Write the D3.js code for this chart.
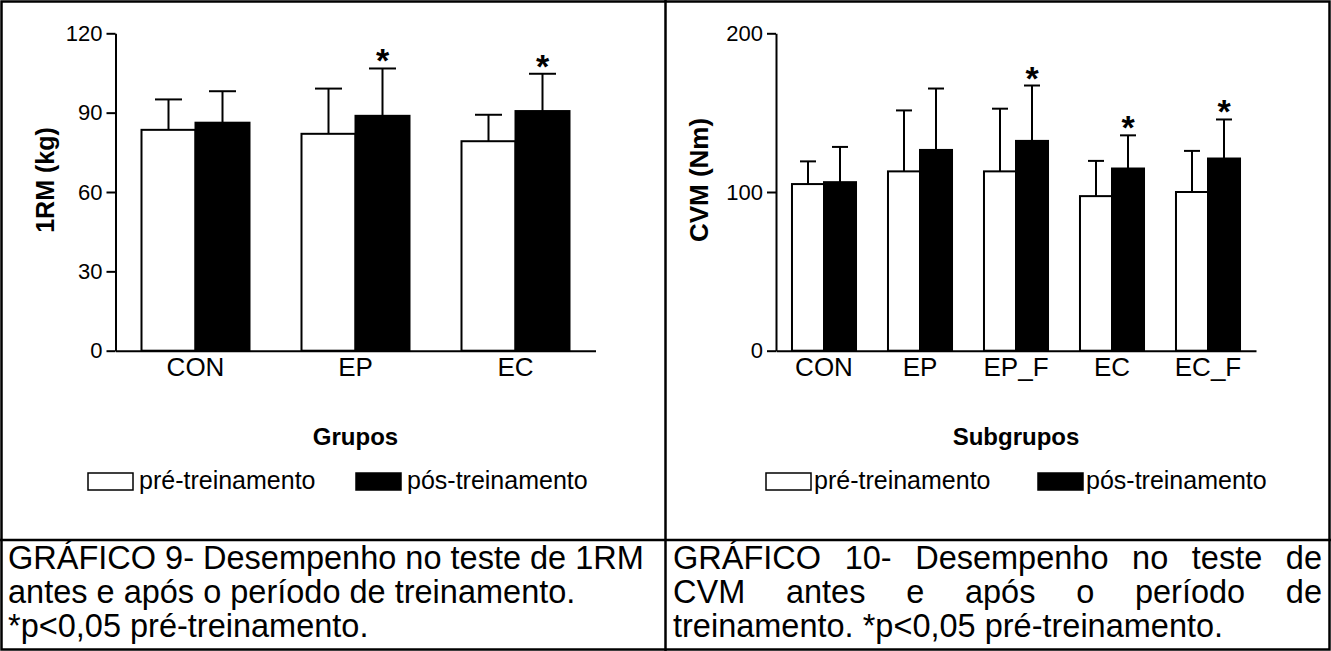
<!DOCTYPE html>
<html>
<head>
<meta charset="utf-8">
<script src="https://cdn.jsdelivr.net/npm/d3@7"></script>
<style>
  html, body { margin: 0; padding: 0; background: #fff; }
  svg { display: block; font-family: "Liberation Sans", Arial, sans-serif; }
</style>
</head>
<body>
<svg id="chart" width="1331" height="651"></svg>
<script>
// GRÁFICO 9 - 1RM (kg)
const groups1 = ['CON', 'EP', 'EC'];
const pre1 = [83.5, 82, 79.2];
const pre1Sd = [11.5, 17.1, 10];
const post1 = [86.2, 88.8, 90.6];
const post1Sd = [11.9, 17.9, 14.1];
const sig1 = [false, true, true];
const ticks1 = [0, 30, 60, 90, 120];

// GRÁFICO 10 - CVM (Nm)
const groups2 = ['CON', 'EP', 'EP_F', 'EC', 'EC_F'];
const pre2 = [105, 113, 113, 97.4, 100];
const pre2Sd = [14.3, 38.4, 39.5, 22.2, 25.9];
const post2 = [106.2, 126.5, 132.2, 114.8, 121.1];
const post2Sd = [22.2, 38.7, 34.9, 20.9, 24.6];
const sig2 = [false, false, true, true, true];
const ticks2 = [0, 100, 200];

const seriesNames = ['pré-treinamento', 'pós-treinamento'];
const seriesFill = ['#fff', '#000'];

const caption1 = [
  'GRÁFICO 9- Desempenho no teste de 1RM',
  'antes e após o período de treinamento.',
  '*p<0,05 pré-treinamento.'
];
const caption2 = [
  'GRÁFICO 10- Desempenho no teste de',
  'CVM antes e após o período de',
  'treinamento. *p<0,05 pré-treinamento.'
];

const svg = d3.select('#chart');

// frame
svg.append('rect')
  .attr('x', 1.5).attr('y', 1.5)
  .attr('width', 1328).attr('height', 648)
  .attr('fill', 'none').attr('stroke', '#000').attr('stroke-width', 2.5);
svg.append('line')
  .attr('x1', 665.5).attr('x2', 665.5).attr('y1', 0).attr('y2', 651)
  .attr('stroke', '#000').attr('stroke-width', 2.5);
svg.append('line')
  .attr('x1', 0).attr('x2', 1331).attr('y1', 540).attr('y2', 540)
  .attr('stroke', '#000').attr('stroke-width', 2.5);

function drawPanel(cfg) {
  const g = svg.append('g');

  const y = d3.scaleLinear().domain(cfg.yDomain).range([350.7, 33.3]);
  const x = d3.scaleBand()
    .domain(cfg.groups)
    .range([cfg.x0, cfg.x1])
    .paddingInner(cfg.padInner)
    .paddingOuter(cfg.padInner / 2);
  const xs = d3.scaleBand().domain([0, 1]).range([0, x.bandwidth()]);

  const rows = cfg.groups.map((name, i) => ({
    name,
    values: [
      { s: 0, v: cfg.pre[i], sd: cfg.preSd[i], sig: false },
      { s: 1, v: cfg.post[i], sd: cfg.postSd[i], sig: cfg.sig[i] }
    ]
  }));

  const grp = g.selectAll('g.grp')
    .data(rows)
    .enter()
    .append('g')
    .attr('class', 'grp')
    .attr('transform', d => `translate(${x(d.name)},0)`);

  const bar = grp.selectAll('g.bar')
    .data(d => d.values)
    .enter()
    .append('g')
    .attr('class', 'bar');

  // error bars (upper only)
  bar.append('line')
    .attr('x1', d => xs(d.s) + xs.bandwidth() / 2)
    .attr('x2', d => xs(d.s) + xs.bandwidth() / 2)
    .attr('y1', d => y(d.v))
    .attr('y2', d => y(d.v + d.sd))
    .attr('stroke', '#000').attr('stroke-width', 2);
  bar.append('line')
    .attr('x1', d => xs(d.s) + xs.bandwidth() / 4)
    .attr('x2', d => xs(d.s) + xs.bandwidth() * 3 / 4)
    .attr('y1', d => y(d.v + d.sd))
    .attr('y2', d => y(d.v + d.sd))
    .attr('stroke', '#000').attr('stroke-width', 2);

  bar.append('rect')
    .attr('x', d => xs(d.s))
    .attr('y', d => y(d.v))
    .attr('width', xs.bandwidth())
    .attr('height', d => y(0) - y(d.v))
    .attr('fill', d => seriesFill[d.s])
    .attr('stroke', '#000').attr('stroke-width', 2);

  bar.filter(d => d.sig)
    .append('text')
    .attr('x', d => xs(d.s) + xs.bandwidth() / 2)
    .attr('y', d => y(d.v + d.sd) + 4)
    .attr('text-anchor', 'middle')
    .attr('font-size', 34)
    .attr('font-weight', 'bold')
    .text('*');

  // axes
  const yAxis = g.append('g')
    .attr('transform', `translate(${cfg.x0},0)`)
    .call(d3.axisLeft(y).tickValues(cfg.ticks).tickSize(9).tickSizeOuter(0).tickPadding(4));
  yAxis.selectAll('text').attr('font-size', 22).attr('fill', '#000');

  const xAxis = g.append('g')
    .attr('transform', `translate(0,${y(0)})`)
    .call(d3.axisBottom(x).tickSize(0).tickSizeOuter(0).tickPadding(7));
  xAxis.selectAll('text').attr('font-size', 26).attr('fill', '#000');

  g.selectAll('.domain, .tick line').attr('stroke', '#000').attr('stroke-width', 2);
  g.selectAll('.tick text').attr('font-family', '"Liberation Sans", Arial, sans-serif');

  g.append('text')
    .attr('transform', `translate(${cfg.yTitleX},180) rotate(-90)`)
    .attr('text-anchor', 'middle')
    .attr('font-size', cfg.yTitleSize)
    .attr('font-weight', 'bold')
    .text(cfg.yTitle);

  g.append('text')
    .attr('x', (cfg.x0 + cfg.x1) / 2)
    .attr('y', 445)
    .attr('text-anchor', 'middle')
    .attr('font-size', 24)
    .attr('font-weight', 'bold')
    .text(cfg.xTitle);

  // legend
  seriesNames.forEach((name, i) => {
    const lx = cfg.legendX[i];
    g.append('rect')
      .attr('x', lx).attr('y', 473)
      .attr('width', 45).attr('height', 17)
      .attr('fill', seriesFill[i])
      .attr('stroke', '#000').attr('stroke-width', 1.5);
    g.append('text')
      .attr('x', lx + cfg.legendText)
      .attr('y', 489)
      .attr('font-size', 25)
      .text(name);
  });

  // caption
  cfg.caption.forEach((line, i) => {
    const yy = 569 + i * 34;
    if (!cfg.justify[i]) {
      g.append('text')
        .attr('x', cfg.capX0).attr('y', yy)
        .attr('font-size', 32.5)
        .text(line);
      return;
    }
    const words = line.split(' ');
    const ws = words.map(w => g.append('text').attr('y', yy).attr('font-size', 32.5).text(w));
    const total = ws.reduce((a, t) => a + t.node().getComputedTextLength(), 0);
    const gap = (cfg.capX1 - cfg.capX0 - total) / (words.length - 1);
    let cx = cfg.capX0;
    ws.forEach(t => {
      t.attr('x', cx);
      cx += t.node().getComputedTextLength() + gap;
    });
  });
}

drawPanel({
  groups: groups1, pre: pre1, preSd: pre1Sd, post: post1, postSd: post1Sd, sig: sig1,
  ticks: ticks1, yDomain: [0, 120],
  x0: 115.5, x1: 595.5, padInner: 0.325,
  yTitle: '1RM (kg)', yTitleX: 54, yTitleSize: 25, xTitle: 'Grupos',
  legendX: [88, 356], legendText: 51,
  caption: caption1, justify: [false, false, false], capX0: 8, capX1: 658
});

drawPanel({
  groups: groups2, pre: pre2, preSd: pre2Sd, post: post2, postSd: post2Sd, sig: sig2,
  ticks: ticks2, yDomain: [0, 200],
  x0: 776, x1: 1256, padInner: 0.333,
  yTitle: 'CVM (Nm)', yTitleX: 708, yTitleSize: 26, xTitle: 'Subgrupos',
  legendX: [766, 1038], legendText: 48,
  caption: caption2, justify: [true, true, false], capX0: 673, capX1: 1322
});
</script>
</body>
</html>
